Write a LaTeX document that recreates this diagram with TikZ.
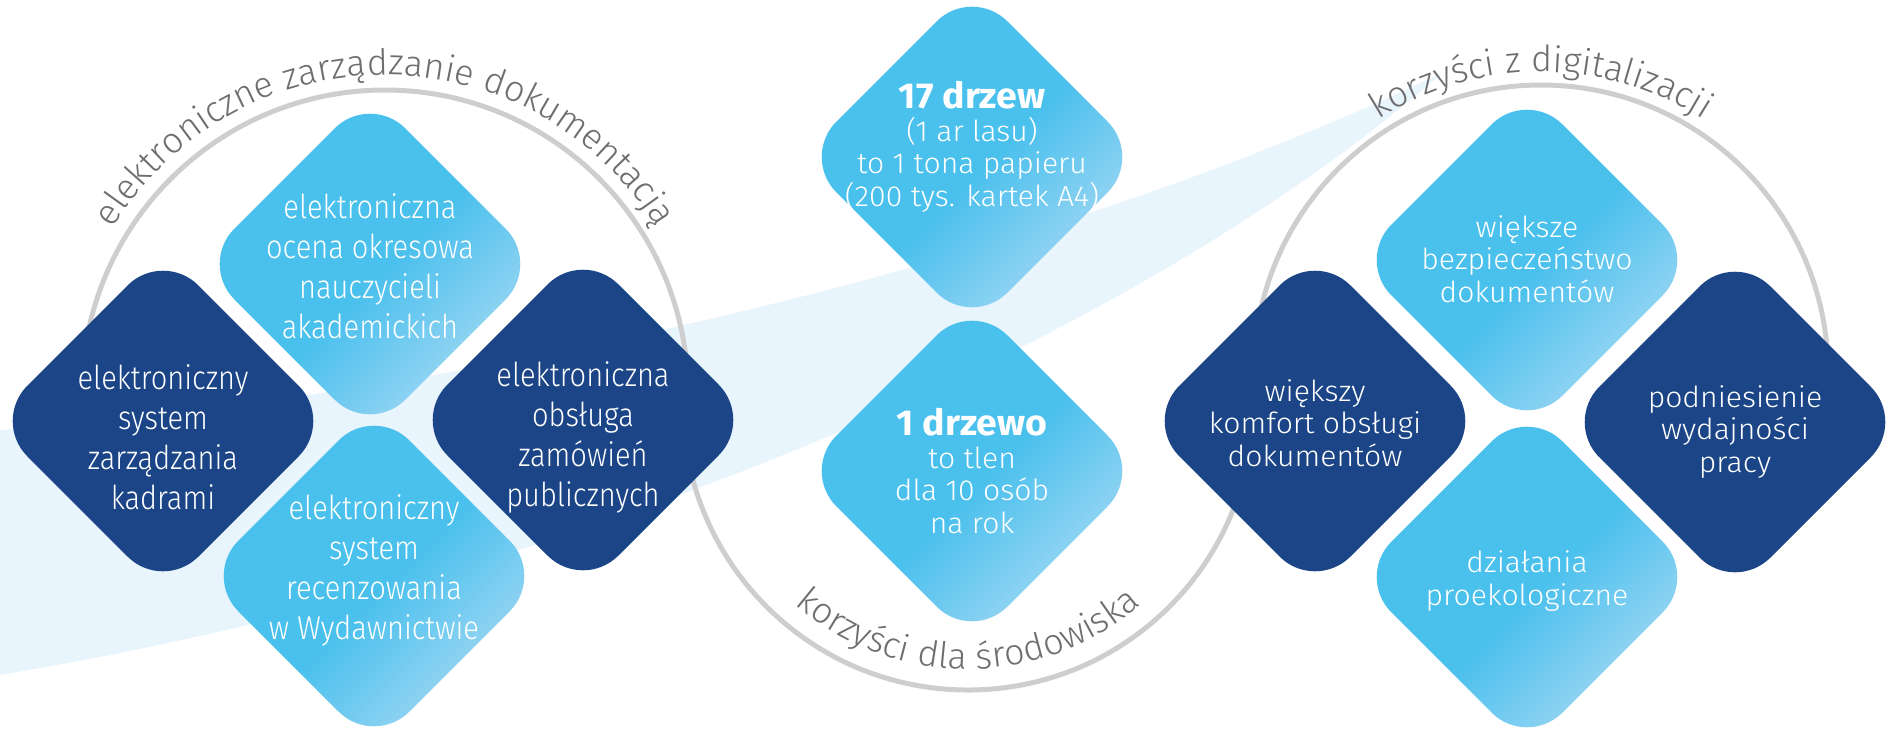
\documentclass[tikz,border=0pt]{standalone}
\usepackage{fontspec}
\setmainfont{Fira Sans}[UprightFont=* Light, BoldFont=* Bold]
\newfontfamily\narrowfont{Fira Sans}[UprightFont=* Light, FakeStretch=0.88]
\newfontfamily\widefont{Fira Sans}[UprightFont=* Light, BoldFont=* Bold, FakeStretch=1.04]
\usetikzlibrary{decorations.text}

\definecolor{navy}{RGB}{27,69,135}
\definecolor{tilecyan}{RGB}{74,192,237}
\definecolor{tilepale}{RGB}{170,218,244}
\definecolor{bandblue}{RGB}{233,245,252}
\definecolor{arcgrey}{RGB}{206,206,206}
\definecolor{arctext}{RGB}{110,110,112}

\pgfdeclareverticalshading{tilefade}{100bp}{color(0bp)=(tilepale); color(25bp)=(tilepale); color(48bp)=(tilecyan); color(100bp)=(tilecyan)}

\newcommand\ringfont{\fontsize{36}{36}\selectfont}

\begin{document}
\begin{tikzpicture}[x=1pt,y=-1pt,
    darktile/.style={fill=navy},
    lighttile/.style={shading=tilefade,shading angle=45},
    narrowtxt/.style={align=center,text=white,font=\narrowfont\fontsize{33}{40}\selectfont},
    widetxt/.style={align=center,text=white,font=\widefont\fontsize{29}{32.5}\selectfont},
    ring/.style={arcgrey,line width=5pt},
    ringtext/.style={decorate,decoration={text along path,text align=center,
        text={|\ringfont\color{arctext}|#1}}}]
  \useasboundingbox (0,0) rectangle (1890,729);

  % pale swoosh behind everything
  \fill[bandblue] (0,430) .. controls (500,390) and (1050,260) .. (1442,73)
    .. controls (1150,330) and (600,575) .. (0,675) -- cycle;

  % the wavy ring: up, down, up
  \draw[ring] (82,393) arc[start angle=180,end angle=360,radius=303];
  \draw[ring] (683,405) arc[start angle=180,end angle=0,radius=285];
  \draw[ring] (1254,372) arc[start angle=180,end angle=360,radius=287];

  \path[ringtext={elektroniczne zarządzanie dokumentacją}] (67,393) arc[start angle=180,end angle=360,radius=318];
  \path[ringtext={korzyści dla środowiska}] (704,405) arc[start angle=180,end angle=0,radius=264];
  \path[ringtext={korzyści z digitalizacji}] (1241,372) arc[start angle=180,end angle=360,radius=300];

  % tiles
  \foreach \x/\y/\s in {163/421/darktile,370/264/lighttile,583/420/darktile,374/576/lighttile,
                        972/157/lighttile,972/471/lighttile,
                        1527/260/lighttile,1315/421/darktile,1735/422/darktile,1527/577/lighttile}
    \path[\s,rounded corners=50pt] (\x,\y-171) -- (\x+171,\y) -- (\x,\y+171) -- (\x-171,\y) -- cycle;

  % left group
  \node[narrowtxt] (kadry) at (163,437) {elektroniczny\\system\\zarządzania\\kadrami};
  \node[narrowtxt] (ocena) at (370,266) {elektroniczna\\ocena okresowa\\nauczycieli\\akademickich};
  \node[narrowtxt] (zamowienia) at (583,437) {elektroniczna\\obsługa\\zamówień\\publicznych};
  \node[narrowtxt] (recenzje) at (374,570) {elektroniczny\\system\\recenzowania\\w Wydawnictwie};

  % middle group
  \node[widetxt] (papier) at (972,147) {{\bfseries\fontsize{36}{34}\selectfont 17 drzew}\\(1 ar lasu)\\to 1 tona papieru\\(200 tys. kartek A4)};
  \node[widetxt] (tlen) at (972,471) {{\bfseries\fontsize{36}{34}\selectfont 1 drzewo}\\to tlen\\dla 10 osób\\na rok};

  % right group
  \node[widetxt] (bezpieczenstwo) at (1527,259) {większe\\bezpieczeństwo\\dokumentów};
  \node[widetxt] (komfort) at (1315,423) {większy\\komfort obsługi\\dokumentów};
  \node[widetxt] (wydajnosc) at (1735,432) {podniesienie\\wydajności\\pracy};
  \node[widetxt] (ekologia) at (1527,581) {działania\\proekologiczne};
\end{tikzpicture}
\end{document}
